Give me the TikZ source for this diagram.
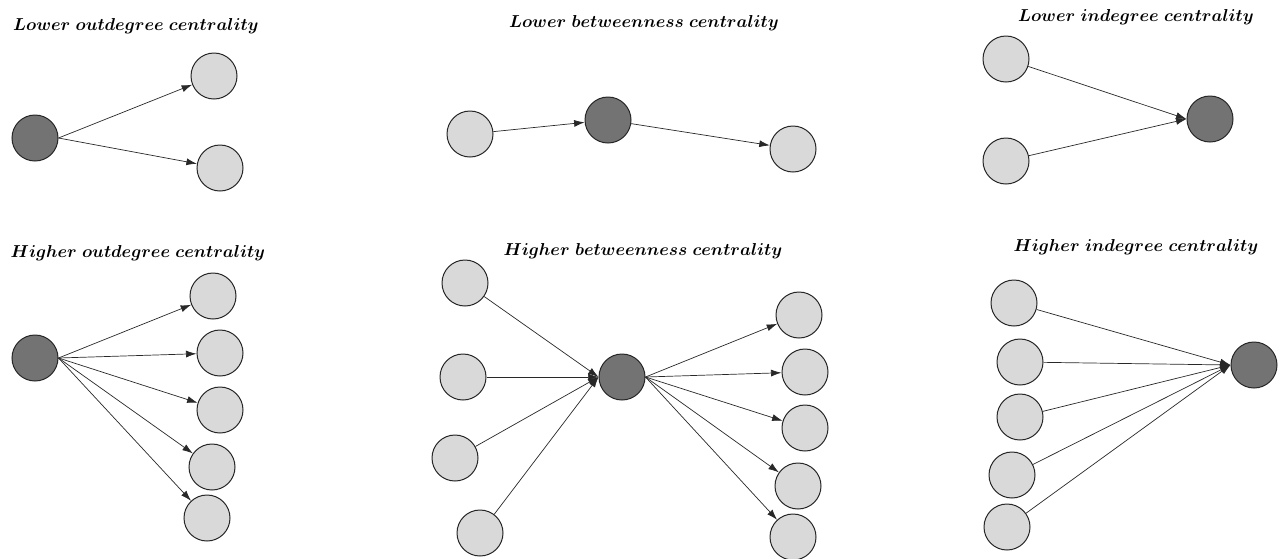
\documentclass[tikz,border=0pt]{standalone}
\usetikzlibrary{arrows.meta}
\definecolor{nodelight}{RGB}{217,217,217}
\definecolor{nodedark}{RGB}{115,115,115}
\definecolor{edgecol}{RGB}{40,40,40}
\tikzset{
  vtx/.style={circle, draw=black!85, line width=1pt, minimum size=46pt, inner sep=0pt},
  lightvtx/.style={vtx, fill=nodelight},
  darkvtx/.style={vtx, fill=nodedark},
  edge/.style={draw=edgecol, line width=0.7pt, -{Latex[length=10.5pt,width=7pt]}},
  heading/.style={font=\fontsize{17.6}{20}\selectfont\boldmath, inner sep=0pt}
}
\begin{document}
\begin{tikzpicture}[x=1pt,y=-1pt]
\useasboundingbox (0,0) rectangle (1280,558);

% Lower outdegree centrality
\node[heading] (t1) at (136,26) {$Lower\ outdegree\ centrality$};
\node[darkvtx]  (a0) at (35,138) {};
\node[lightvtx] (a1) at (214,76) {};
\node[lightvtx] (a2) at (220,168) {};
\draw[edge] (a0.east) -- (a1);
\draw[edge] (a0.east) -- (a2);

% Lower betweenness centrality
\node[heading] (t2) at (644,23) {$Lower\ betweenness\ centrality$};
\node[lightvtx] (b1) at (470,134) {};
\node[darkvtx]  (b0) at (608,120) {};
\node[lightvtx] (b2) at (793,149) {};
\draw[edge] (b1) -- (b0);
\draw[edge] (b0) -- (b2);

% Lower indegree centrality
\node[heading] (t3) at (1136,17) {$Lower\ indegree\ centrality$};
\node[lightvtx] (c1) at (1006,59) {};
\node[lightvtx] (c2) at (1006,161) {};
\node[darkvtx]  (c0) at (1210,119) {};
\draw[edge] (c1) -- (c0.west);
\draw[edge] (c2) -- (c0.west);

% Higher outdegree centrality
\node[heading] (t4) at (138,253) {$Higher\ outdegree\ centrality$};
\node[darkvtx]  (d0) at (35,358) {};
\node[lightvtx] (d1) at (213,296) {};
\node[lightvtx] (d2) at (220,353) {};
\node[lightvtx] (d3) at (220,410) {};
\node[lightvtx] (d4) at (212,467) {};
\node[lightvtx] (d5) at (207,518) {};
\foreach \k in {1,...,5} \draw[edge] (d0.east) -- (d\k);

% Higher betweenness centrality
\node[heading] (t5) at (643,251) {$Higher\ betweenness\ centrality$};
\node[lightvtx] (e1) at (465,283) {};
\node[lightvtx] (e2) at (463,377) {};
\node[lightvtx] (e3) at (455,458) {};
\node[lightvtx] (e4) at (480,533) {};
\node[darkvtx]  (e0) at (622,377) {};
\node[lightvtx] (f1) at (799,315) {};
\node[lightvtx] (f2) at (805,372) {};
\node[lightvtx] (f3) at (805,428) {};
\node[lightvtx] (f4) at (798,486) {};
\node[lightvtx] (f5) at (793,537) {};
\foreach \k in {1,...,4} \draw[edge] (e\k) -- (e0.west);
\foreach \k in {1,...,5} \draw[edge] (e0.east) -- (f\k);

% Higher indegree centrality
\node[heading] (t6) at (1136,247) {$Higher\ indegree\ centrality$};
\node[lightvtx] (g1) at (1014,303) {};
\node[lightvtx] (g2) at (1020,362) {};
\node[lightvtx] (g3) at (1020,417) {};
\node[lightvtx] (g4) at (1012,475) {};
\node[lightvtx] (g5) at (1007,527) {};
\node[darkvtx]  (g0) at (1254,365) {};
\foreach \k in {1,...,5} \draw[edge] (g\k) -- (g0.west);
\end{tikzpicture}
\end{document}
